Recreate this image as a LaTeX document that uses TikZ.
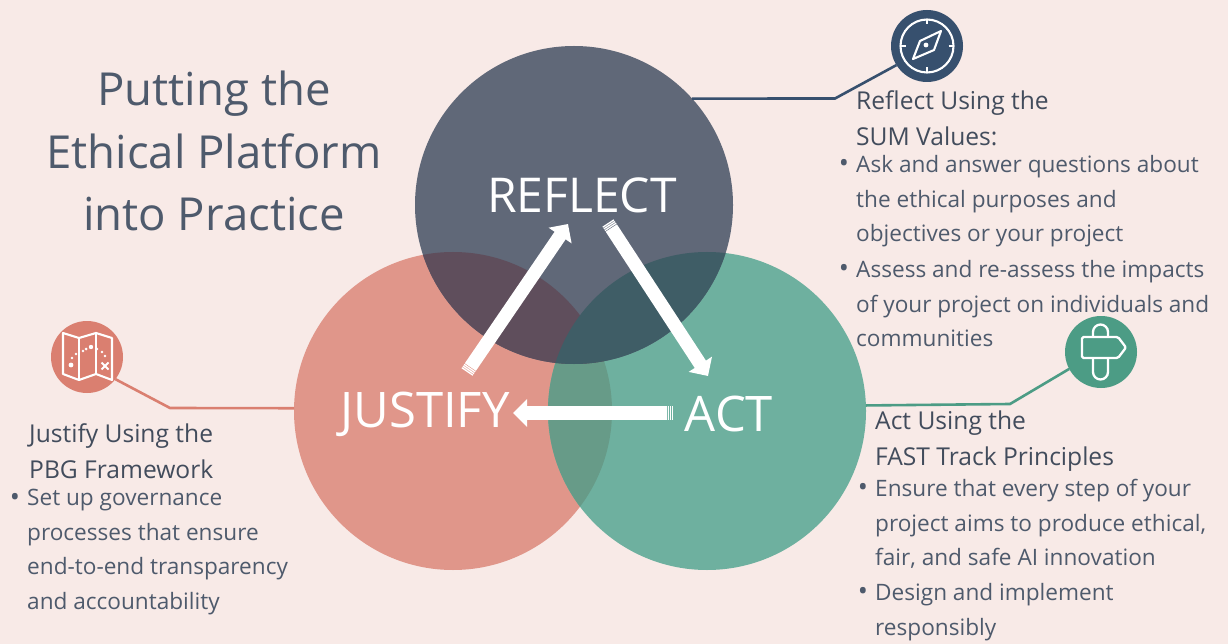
\documentclass[tikz,border=0pt]{standalone}
\usepackage{fontspec}
\setmainfont{Open Sans}
\usetikzlibrary{arrows.meta,calc}
\definecolor{bgc}{HTML}{F8EAE7}
\definecolor{refc}{HTML}{606878}
\definecolor{jusc}{HTML}{E0968A}
\definecolor{actc}{HTML}{6EB09F}
\definecolor{rjc}{HTML}{5F4E5C}
\definecolor{rac}{HTML}{3F5D66}
\definecolor{jac}{HTML}{679B88}
\definecolor{navy}{HTML}{37506E}
\definecolor{teal}{HTML}{4C9C85}
\definecolor{coral}{HTML}{DA7F70}
\definecolor{inkc}{HTML}{4E5A6C}
\tikzset{
  bigcirc/.style={circle,inner sep=0pt,outer sep=0pt,minimum size=#1},
  iconc/.style={circle,inner sep=0pt,outer sep=0pt,minimum size=72pt,fill=#1},
  biglabel/.style={text=white,inner sep=0pt,font=\fontsize{#1}{48}\selectfont},
  titletext/.style={text=inkc,inner sep=0pt,align=center,font=\fontsize{45.5}{62.5}\selectfont},
  headtext/.style={text=inkc!85!black,inner sep=0pt,anchor=north west,align=left,font=\fontsize{24.6}{36}\selectfont},
  bodytext/.style={text=inkc,inner sep=0pt,anchor=north west,align=left,font=\fontsize{22.6}{34.7}\selectfont},
  bul/.style={text=inkc,inner sep=0pt,font=\fontsize{27}{27}\selectfont},
  leader/.style={line width=2.6pt,draw=#1},
  flow/.style={white,line width=13.4pt,-{Triangle[width=27pt,length=14pt]}},
  flowtail/.style={white,line width=13.4pt,dash pattern=on 1.3pt off 0.7pt},
  iconline/.style={white,line width=2.1pt,line join=round}
}
\begin{document}
\begin{tikzpicture}[x=1pt,y=-1pt]
\useasboundingbox (0,0) rectangle (1228,644);
\fill[bgc] (0,0) rectangle (1228,644);
% circles
\node[bigcirc=318pt,fill=jusc] (justify) at (453,411) {};
\node[bigcirc=318pt,fill=actc] (act) at (707,411) {};
\node[bigcirc=318pt,fill=refc] (reflect) at (574,205) {};
\begin{scope}
  \clip (453,411) circle (159);
  \fill[jac] (707,411) circle (159);
  \fill[rjc] (574,205) circle (159);
\end{scope}
\begin{scope}
  \clip (707,411) circle (159);
  \fill[rac] (574,205) circle (159);
\end{scope}
% labels in circles
\node[biglabel=48] (lref) at (582,195) {REFLECT};
\node[biglabel=49] (ljus) at (425,414) {JUSTIFY};
\node[biglabel=49] (lact) at (729,414) {ACT};
% arrows
\coordinate (a1t) at (467,372); \coordinate (a1m) at ($(a1t)!6pt!(568,224)$); \coordinate (a1h) at (568,224);
\coordinate (a2t) at (608,223); \coordinate (a2m) at ($(a2t)!6pt!(708,376)$); \coordinate (a2h) at (708,376);
\coordinate (a3t) at (673,413); \coordinate (a3m) at ($(a3t)!6pt!(513,413)$); \coordinate (a3h) at (513,413);
\draw[flowtail] (a1t) -- (a1m); \draw[flow] (a1m) -- (a1h);
\draw[flowtail] (a2t) -- (a2m); \draw[flow] (a2m) -- (a2h);
\draw[flowtail] (a3t) -- (a3m); \draw[flow] (a3m) -- (a3h);
% icons
\node[iconc=navy] (compass) at (927,46) {};
\node[iconc=teal] (sign) at (1101,352) {};
\node[iconc=coral] (map) at (87,357) {};
% leaders
\coordinate (k1) at (835,98.5);
\coordinate (k2) at (1010,404);
\coordinate (k3) at (170,408);
\draw[leader=navy] (reflect.42) -- (k1) -- (compass.212);
\draw[leader=teal] (act.2.5) -- (k2) -- (sign.208);
\draw[leader=coral] (justify.179) -- (k3) -- (map.-38);
% compass glyph
\draw[iconline] (927,46) circle (26.5);
\draw[iconline] (927,19.5) -- (927,24.5) (927,67.5) -- (927,72.5) (900.5,46) -- (905.5,46) (948.5,46) -- (953.5,46);
\draw[iconline] (941,31) -- (934,50) -- (913,59) -- (920,41) -- cycle;
\fill[white] (926,45) circle (2.4);
% signpost glyph
\draw[iconline,line width=2.3pt] (1093,337) -- (1093,332) arc (180:360:7.5) -- (1108,337);
\draw[iconline,line width=2.3pt] (1093,358) -- (1093,372) arc (180:0:7.5) -- (1108,358);
\draw[iconline,line width=2.3pt,rounded corners=1.5pt] (1082,337) -- (1118,337) -- (1126,347.5) -- (1118,358) -- (1082,358) -- cycle;
% map glyph
\draw[iconline] (63,333) -- (79,338) -- (96,333) -- (112,338) -- (112,380) -- (96,374) -- (79,380) -- (63,374) -- cycle;
\draw[iconline] (79,338) -- (79,380) (96,333) -- (96,374);
\fill[white] (71,365) circle (2.4) (72,358) circle (1.4) (76,354) circle (1.4) (83,351) circle (1.4)
  (86,349) circle (1.5) (91,347) circle (2.2) (97,349) circle (1.4) (102,352) circle (1.4) (105,356) circle (1.3);
\draw[white,line width=2pt] (101.5,362.5) -- (108.5,369.5) (108.5,362.5) -- (101.5,369.5);
% text
\node[titletext] (title) at (214,151) {Putting the\\Ethical Platform\\into Practice};
\node[headtext] (hr) at (856,90) {Reflect Using the\\SUM Values:};
\node[bul] (b1) at (844,166) {•};
\node[bodytext] (t1) at (856,155) {Ask and answer questions about\\the ethical purposes and\\objectives or your project};
\node[bul] (b2) at (844,271) {•};
\node[bodytext] (t2) at (856,260) {Assess and re-assess the impacts\\of your project on individuals and\\communities};
\node[headtext] (ha) at (875,411) {Act Using the\\FAST Track Principles};
\node[bul] (b3) at (863,490) {•};
\node[bodytext] (t3) at (875,479) {Ensure that every step of your\\project aims to produce ethical,\\fair, and safe AI innovation};
\node[bul] (b4) at (863,594) {•};
\node[bodytext] (t4) at (875,583) {Design and implement\\responsibly};
\node[headtext] (hj) at (29,423) {Justify Using the\\PBG Framework};
\node[bul] (b5) at (15,500) {•};
\node[bodytext] (t5) at (27,489) {Set up governance\\processes that ensure\\end-to-end transparency\\and accountability};
\end{tikzpicture}
\end{document}
